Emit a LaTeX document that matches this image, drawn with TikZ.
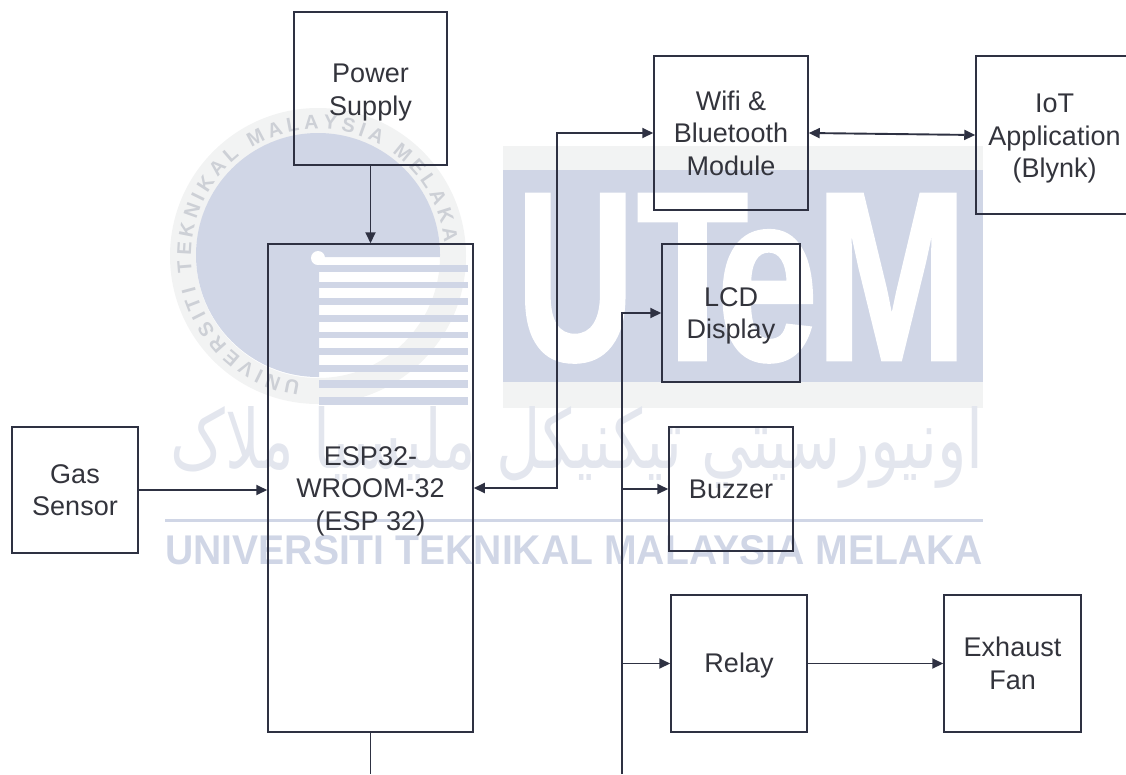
\documentclass[tikz,border=0pt]{standalone}
\usepackage{fontspec}
\usepackage{graphicx}
\usetikzlibrary{arrows.meta,decorations.text}
\setmainfont{Liberation Sans}
\newfontfamily\arabicfont[Script=Arabic]{DejaVu Sans}
\newfontfamily\logofont[BoldFeatures={FakeBold=1.2}]{Liberation Sans}
\TeXXeTstate=1
\newcommand{\topgap}[1]{\rule{0pt}{#1pt}}
\definecolor{wmblue}{HTML}{D0D6E6}
\definecolor{wmpale}{HTML}{F2F3F3}
\definecolor{wmgrey}{HTML}{CDD0D6}
\definecolor{wmjawi}{HTML}{E3E6EE}
\definecolor{inkline}{HTML}{2E3142}
\definecolor{inktext}{HTML}{33343C}
\tikzset{
  blockbox/.style={draw=inkline,line width=1.5pt,align=center,inner sep=0pt,text=inktext,
    font=\fontsize{27}{32.5}\selectfont},
  wire/.style={draw=inkline,line width=1.9pt},
  head/.style={-{Triangle[length=11pt,width=10pt]}},
  bothheads/.style={{Triangle[length=11pt,width=10pt]}-{Triangle[length=11pt,width=10pt]}},
  wmtext/.style={inner sep=0pt,text=wmblue}
}
\begin{document}
\begin{tikzpicture}[x=1pt,y=-1pt]
\useasboundingbox (0,0) rectangle (1126,774);
\clip (0,0) rectangle (1126,774);
% --- watermark: seal
\fill[wmpale,even odd rule] (318,256) circle[radius=148] (318,256) circle[radius=122];
\begin{scope}
  \clip (190,125) rectangle (319,385) (319,125) rectangle (450,257);
  \fill[wmblue] (318,255) circle[radius=122];
\end{scope}
\foreach \yy/\hh in {265/7,282/6,298/7,315/7,332/6,348/7,365/7,380/8,397/8}
  \fill[wmblue] (319,\yy) rectangle (468,\yy+\hh);
\fill[white] (318,258) circle[radius=7];
\path[postaction={decorate,decoration={text along path,text align={fit to path},
   text={|\fontsize{20}{20}\selectfont\bfseries\color{wmgrey}|UNIVERSITI TEKNIKAL MALAYSIA MELAKA}}}]
   (318,256) ++(-262:127) arc[start angle=-262,end angle=-6,radius=127];
% --- watermark: UTeM band
\fill[wmpale] (503,146) rectangle (983,408);
\fill[wmblue] (503,170) rectangle (983,382);
\node[inner sep=0pt,anchor=base west,text=white] (utem) at (516,360)
  {\fontsize{241}{241}\logofont\bfseries
   \scalebox{.68}[1]{U}\kern2pt\scalebox{.76}[1]{T}\kern-32pt\scalebox{.76}[1]{e}\kern-3pt\scalebox{.76}[1]{M}};
% --- watermark: Jawi and Latin names
\node[wmtext,text=wmjawi] (jawi) at (577,447)
  {\resizebox{813pt}{62pt}{\arabicfont\beginR اونيورسيتي تيکنيکل مليسيا ملاک\endR}};
\fill[wmblue] (165,519) rectangle (983,522);
\node[wmtext,anchor=base west] (uname) at (165,564)
  {\resizebox{818pt}{29pt}{\fontsize{39}{39}\selectfont\bfseries UNIVERSITI TEKNIKAL MALAYSIA MELAKA}};
% --- blocks
\node[blockbox,minimum width=153pt,minimum height=153pt] (power) at (370.5,88.5) {\topgap{27}Power\\Supply};
\node[blockbox,minimum width=205pt,minimum height=488pt] (esp) at (370.5,488) {\topgap{25}ESP32-\\WROOM-32\\(ESP 32)};
\node[blockbox,minimum width=126pt,minimum height=126pt] (gas) at (75,490) {Gas\\Sensor};
\node[blockbox,minimum width=154pt,minimum height=154pt] (wifi) at (731,133) {Wifi \&\\Bluetooth\\Module};
\node[blockbox,minimum width=157pt,minimum height=158pt] (iot) at (1054.5,135) {\topgap{26}IoT\\Application\\(Blynk)};
\node[blockbox,minimum width=138pt,minimum height=138pt] (lcd) at (731,313) {\topgap{25}LCD\\Display};
\node[blockbox,minimum width=124pt,minimum height=124pt] (buzzer) at (731,489) {Buzzer};
\node[blockbox,minimum width=136pt,minimum height=137pt] (relay) at (739,663.5) {\topgap{23}Relay};
\node[blockbox,minimum width=137pt,minimum height=137pt] (fan) at (1012.5,663.5) {Exhaust\\Fan};
% --- free ends and elbows
\coordinate (wifibus) at (557,133);
\coordinate (busend) at (622,774);
\coordinate (espend) at (370.5,774);
% --- connectors
\draw[wire,head] (power.south) -- (esp.north);
\draw[wire,head] (gas.east) -- (gas.east -| esp.west);
\draw[wire,bothheads] (esp.east) -| (wifibus) -- (wifi.west);
\draw[wire,bothheads] (wifi.east) -- (iot.west);
\draw[wire,head] (busend) |- (lcd.west);
\draw[wire,head] (buzzer.west -| busend) -- (buzzer.west);
\draw[wire,head] (relay.west -| busend) -- (relay.west);
\draw[wire,head] (relay.east) -- (fan.west);
\draw[wire] (esp.south) -- (espend);
\end{tikzpicture}
\end{document}
